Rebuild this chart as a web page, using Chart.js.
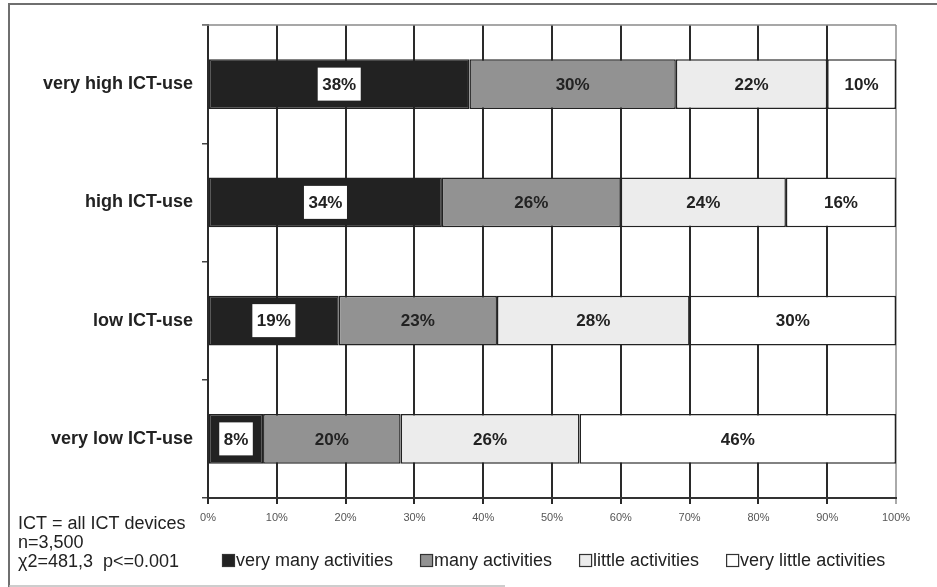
<!DOCTYPE html>
<html>
<head>
<meta charset="utf-8">
<script src="https://cdn.jsdelivr.net/npm/chart.js@4/dist/chart.umd.min.js"></script>
<style>
  html, body { margin: 0; padding: 0; background: #fff; }
  #wrap { width: 937px; height: 587px; }
</style>
</head>
<body>
<div id="wrap"><canvas id="c" width="937" height="587"></canvas></div>
<script>
// ICT-use groups and share of activities per group (percent)
const categories = ['very high ICT-use', 'high ICT-use', 'low ICT-use', 'very low ICT-use'];
const seriesNames = ['very many activities', 'many activities', 'little activities', 'very little activities'];
const veryMany = [38, 34, 19, 8];
const many = [30, 26, 23, 20];
const little = [22, 24, 28, 26];
const veryLittle = [10, 16, 30, 46];
const xTicks = [0, 10, 20, 30, 40, 50, 60, 70, 80, 90, 100];
const notes = ['ICT = all ICT devices', 'n=3,500', '\u03C72=481,3  p<=0.001'];

const fills = ['#222222', '#929292', '#ececec', '#ffffff'];
const ink = '#222222';
const FONT = '"Liberation Sans", Arial, sans-serif';

const seriesValues = [veryMany, many, little, veryLittle];

// value labels centred on each segment; the darkest series gets a white box
const segmentLabels = {
  id: 'segmentLabels',
  afterDatasetsDraw(chart) {
    const ctx = chart.ctx;
    ctx.save();
    ctx.font = 'bold 17px ' + FONT;
    ctx.textAlign = 'center';
    ctx.textBaseline = 'middle';
    chart.data.datasets.forEach((ds, di) => {
      chart.getDatasetMeta(di).data.forEach((bar, i) => {
        const txt = ds.data[i] + '%';
        const cx = (bar.x + bar.base) / 2;
        const cy = bar.y;
        if (di === 0) {
          const w = ctx.measureText(txt).width + 9;
          const h = 33;
          ctx.fillStyle = '#ffffff';
          ctx.fillRect(cx - w / 2, cy - h / 2, w, h);
        }
        ctx.fillStyle = ink;
        ctx.fillText(txt, cx, cy + 1);
      });
    });
    ctx.restore();
  }
};

// frame, top border of the plot, footnotes and legend
const decorations = {
  id: 'decorations',
  beforeDraw(chart) {
    const ctx = chart.ctx;
    ctx.save();
    ctx.fillStyle = '#fff';
    ctx.fillRect(0, 0, chart.width, chart.height);
    ctx.restore();
  },
  afterDraw(chart) {
    const ctx = chart.ctx;
    const a = chart.chartArea;
    ctx.save();
    // outer frame
    ctx.strokeStyle = '#6f6f6f';
    ctx.lineWidth = 2;
    ctx.beginPath();
    ctx.moveTo(9, 587); ctx.lineTo(9, 4); ctx.lineTo(937, 4);
    ctx.stroke();
    ctx.strokeStyle = '#bdbdbd';
    ctx.lineWidth = 1.5;
    ctx.beginPath();
    ctx.moveTo(9, 586); ctx.lineTo(505, 586);
    ctx.stroke();
    // top edge of plot
    ctx.strokeStyle = '#8a8a8a';
    ctx.lineWidth = 1.5;
    ctx.beginPath();
    ctx.moveTo(a.left - 6, a.top); ctx.lineTo(a.right, a.top);
    ctx.stroke();

    // footnotes
    ctx.fillStyle = ink;
    ctx.font = '18px ' + FONT;
    ctx.textAlign = 'left';
    ctx.textBaseline = 'middle';
    notes.forEach((t, i) => ctx.fillText(t, 18, 524 + i * 19));

    // legend
    let x = 222;
    const y = 561;
    chart.data.datasets.forEach((ds, i) => {
      ctx.fillStyle = ds.backgroundColor;
      ctx.fillRect(x, y - 7, 13, 13);
      ctx.strokeStyle = '#333';
      ctx.lineWidth = 1.2;
      ctx.strokeRect(x + 0.5, y - 6.5, 12, 12);
      ctx.fillStyle = ink;
      ctx.fillText(ds.label, x + 14, y);
      x += 14 + ctx.measureText(ds.label).width + 27;
    });
    ctx.restore();
  }
};

const datasets = seriesNames.map((name, i) => ({
  label: name,
  data: seriesValues[i],
  backgroundColor: fills[i],
  borderColor: ink,
  borderWidth: 1.5,
  borderSkipped: false,
  barPercentage: 0.42,
  categoryPercentage: 1.0
}));

new Chart(document.getElementById('c'), {
  type: 'bar',
  data: { labels: categories, datasets },
  plugins: [segmentLabels, decorations],
  options: {
    indexAxis: 'y',
    responsive: false,
    animation: false,
    devicePixelRatio: 1,
    layout: { padding: { left: 0, top: 25, right: 41, bottom: 0 } },
    plugins: {
      legend: { display: false },
      tooltip: { enabled: false }
    },
    scales: {
      x: {
        stacked: true,
        min: 0,
        max: 100,
        afterBuildTicks: s => { s.ticks = xTicks.map(v => ({ value: v })); },
        afterFit: s => { s.height = 89; },
        ticks: {
          callback: v => v + '%',
          font: { family: FONT, size: 11 },
          color: '#555',
          padding: 7,
          maxRotation: 0
        },
        grid: {
          color: ctx => (ctx.tick && ctx.tick.value === 100) ? '#aaaaaa' : '#2a2a2a',
          lineWidth: 2,
          tickLength: 6,
          drawTicks: true
        },
        border: { color: '#333', width: 2 }
      },
      y: {
        stacked: true,
        afterFit: s => { s.width = 208; },
        ticks: {
          font: { family: FONT, size: 18, weight: 'bold' },
          color: ink,
          padding: 9
        },
        grid: {
          drawOnChartArea: false,
          drawTicks: true,
          tickLength: 6,
          color: '#444',
          lineWidth: 1.5,
          offset: true
        },
        border: { color: '#2a2a2a', width: 2 }
      }
    }
  }
});
</script>
</body>
</html>
